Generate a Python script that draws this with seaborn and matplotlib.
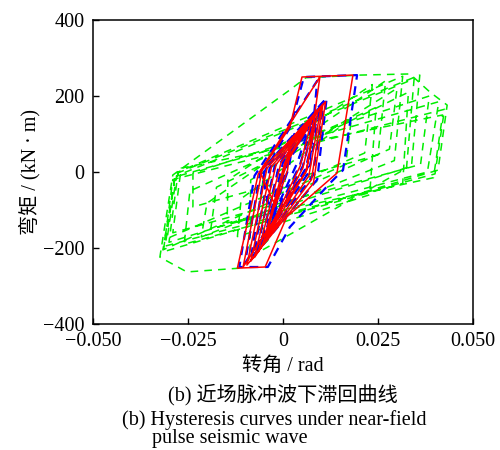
import matplotlib
matplotlib.use("Agg")
import matplotlib.pyplot as plt
import seaborn as sns
import pandas as pd

# ---- data ----
green_x = [0, -0.0040, -0.0113, -0.0253, -0.0324, -0.0290, 0.0018, 0.0060, 0.0203, 0.0334, 0.0387, 0.0432, 0.0408,
           -0.0315, -0.0290, 0.0425, 0.0400,
           -0.0310, -0.0283, 0.0360, 0.0338,
           -0.0300, -0.0276, 0.0315, 0.0293,
           -0.0215, -0.0200, 0.0270, 0.0250,
           -0.0237, -0.0237, 0.0385, 0.0362,
           -0.0290, -0.0268, 0.0420, 0.0396,
           -0.0147, -0.0145, 0.0235, 0.0215,
           -0.0305, -0.0280, 0.0345, 0.0325,
           -0.0087, -0.0085, 0.0300, 0.0280,
           -0.0316, -0.0284, 0.0410, 0.0380,
           -0.0190, -0.0175, 0.0330, 0.0315,
           -0.0260, -0.0245, 0.0245, 0.0228,
           -0.0120, -0.0110, 0.0180, 0.0165, -0.0060, -0.0050]
green_y = [0, -180, -253, -263, -224, -8, 216, 248, 255, 258, 210, 176, 5,
           -210, -20, 165, -5,
           -195, -5, 255, 15,
           -185, 0, 252, 30,
           -171, -82, 240, 45,
           -92, -3, 200, 20,
           -160, 10, 150, -15,
           -134, -21, 230, 50,
           -175, -10, 245, 10,
           -224, -21, 220, 60,
           -205, -13, 185, 0,
           -150, -40, 210, -30,
           -190, -50, 170, -60,
           -170, -70, 140, 20, -80, 0]

blue_x = [0, 0.0030, 0.0015, -0.0030, -0.0055, 0.0020, 0.0055, 0.0195, 0.0158, 0.0124, 0.0018, -0.0040, -0.0115,
          -0.0075, 0.0090, 0.0070, -0.0100, -0.0060, 0.0115, 0.0090, -0.0085, -0.0048, 0.0108, 0.0078,
          -0.0078, -0.0035, 0.0100, 0.0068, -0.0068, -0.0022, 0.0095, 0.0060, -0.0058, -0.0010, 0.0088,
          0.0052, -0.0048, 0.0000, 0.0080, 0.0045, -0.0038, 0.0010, 0.0070, 0.0038, -0.0028, 0.0015, 0.0060]
blue_y = [0, 100, 10, -120, -10, 120, 250, 255, 5, -29, -145, -250, -250,
          -10, 240, 20, -240, 0, 195, -20, -230, 5, 185, -10,
          -220, 10, 175, 0, -205, 15, 165, 10, -190, 20, 150,
          15, -170, 25, 135, 20, -150, 30, 120, 25, -120, 30, 100]

red_x = [0, 0.0020, 0.0012, -0.0020, -0.0060, 0.0018, 0.0050, 0.0184, 0.0142, 0.0010, -0.0047, -0.0120,
         -0.0065, 0.0097, 0.0063, -0.0105, -0.0055, 0.0112, 0.0080, -0.0095, -0.0042, 0.0105, 0.0075,
         -0.0085, -0.0030, 0.0100, 0.0068, -0.0075, -0.0018, 0.0092, 0.0060, -0.0065, -0.0005, 0.0085,
         0.0052, -0.0055, 0.0005, 0.0075, 0.0045, -0.0045, 0.0010, 0.0065]
red_y = [0, 70, 5, -90, 0, 118, 250, 255, -3, -118, -250, -253,
         -5, 250, 5, -250, 5, 185, -30, -245, 10, 178, -20,
         -235, 15, 170, -10, -225, 20, 160, 0, -210, 25, 150,
         10, -195, 25, 135, 15, -170, 25, 115]

x_ticks = [-0.05, -0.025, 0, 0.025, 0.05]
x_tick_labels = ["\u22120.050", "\u22120.025", "0", "0.025", "0.050"]
y_ticks = [-400, -200, 0, 200, 400]
y_tick_labels = ["\u2212400", "\u2212200", "0", "200", "400"]

# ---- style ----
sns.set_style("white")
plt.rcParams['font.family'] = ['Liberation Serif', 'Noto Sans CJK SC', 'DejaVu Sans']
plt.rcParams['text.color'] = 'black'
plt.rcParams['axes.labelcolor'] = 'black'

fig = plt.figure(figsize=(5, 4.5), dpi=100)
ax = fig.add_axes([0.186, 0.28, 0.76, 0.6756])

gdf = pd.DataFrame({"x": green_x, "y": green_y})
bdf = pd.DataFrame({"x": blue_x, "y": blue_y})
rdf = pd.DataFrame({"x": red_x, "y": red_y})

sns.lineplot(data=gdf, x="x", y="y", sort=False, estimator=None, ax=ax,
             color="#00ee00", linewidth=1.1, linestyle=(0, (5, 4)))
sns.lineplot(data=bdf, x="x", y="y", sort=False, estimator=None, ax=ax,
             color="#0000ff", linewidth=1.6, linestyle=(0, (4, 3)))
sns.lineplot(data=rdf, x="x", y="y", sort=False, estimator=None, ax=ax,
             color="#ff0000", linewidth=1.1)

ax.set_xlim(-0.05, 0.05)
ax.set_ylim(-400, 400)
ax.set_xticks(x_ticks)
ax.set_xticklabels(x_tick_labels)
ax.set_yticks(y_ticks)
ax.set_yticklabels(y_tick_labels)
ax.tick_params(direction="in", length=4, width=1, labelsize=14.5, colors="black",
               bottom=True, left=True, top=False, right=False, pad=6)
for s in ax.spines.values():
    s.set_visible(True)
    s.set_color("black")
    s.set_linewidth(1.1)

ax.set_xlabel("转角 / rad", fontsize=14.5, labelpad=4, color="black")
ax.set_ylabel("弯矩 / (kN · m)", fontsize=14.5, labelpad=2, color="black")

fig.text(0.566, 1 - 395 / 450, "(b) 近场脉冲波下滞回曲线", ha="center", va="center", fontsize=14.5, color="black")
fig.text(0.244, 1 - 420 / 450, "(b) Hysteresis curves under near-field", ha="left", va="center", fontsize=14.5, color="black")
fig.text(0.304, 1 - 438 / 450, "pulse seismic wave", ha="left", va="center", fontsize=14.5, color="black")

fig.savefig("out.png", dpi=100)
